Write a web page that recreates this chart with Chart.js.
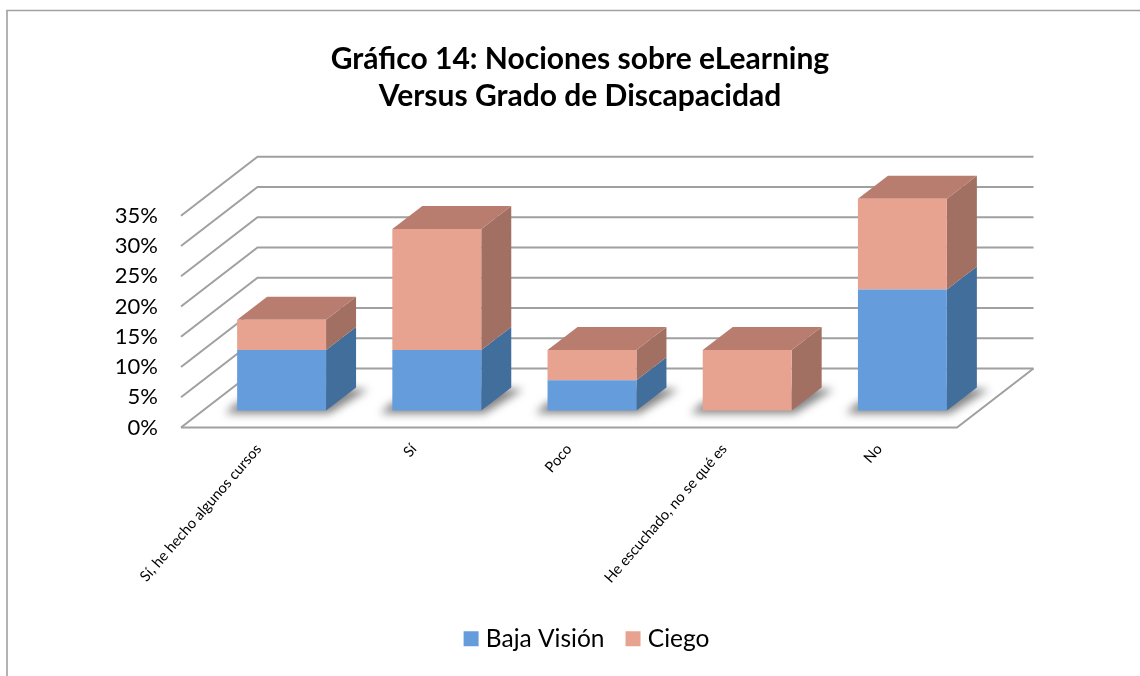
<!DOCTYPE html>
<html><head><meta charset="utf-8">
<style>html,body{margin:0;padding:0;background:#fff}#w{width:1140px;height:676px}canvas{display:block}</style>
<script src="https://cdn.jsdelivr.net/npm/chart.js@4"></script>
</head><body><div id="w"><canvas id="c" width="1140" height="676"></canvas></div>
<script>
const categories = ["Sí, he hecho algunos cursos","Sí","Poco","He escuchado, no se qué es","No"];
const bajaVision = [10,10,5,0,20];
const ciego = [5,20,5,10,15];
const seriesNames = ["Baja Visión","Ciego"];
const titleLines = ["Gráfico 14: Nociones sobre eLearning","Versus Grado de Discapacidad"];
const FONT = "Lato, Carlito, sans-serif";
const COL = {blue:"#659cdc",blueSide:"#416e9b",pink:"#e8a290",pinkSide:"#a26f63",pinkTop:"#b97d70",grid:"#a0a0a0"};
const WALL = {dx:76.5,dy:59};
const BAR = {dx:30,dy:23,sx:23,sy:-17};

function poly(ctx,pts,fill){ctx.beginPath();pts.forEach((p,i)=>i?ctx.lineTo(p[0],p[1]):ctx.moveTo(p[0],p[1]));ctx.closePath();ctx.fillStyle=fill;ctx.fill();}

const scene = {
  id:"scene",
  afterLayout(chart){ chart.legend.left += 9; chart.legend.right += 9; },
  beforeDraw(chart){
    const c=chart.ctx; c.save();
    c.fillStyle="#fff"; c.fillRect(0,0,chart.width,chart.height);
    c.strokeStyle="#a0a0a0"; c.lineWidth=1.6;
    c.beginPath(); c.moveTo(7,676); c.lineTo(7,10.5); c.lineTo(1140,10.5); c.stroke();
    c.restore();
  },
  beforeDatasetsDraw(chart){
    const c=chart.ctx,a=chart.chartArea,y=chart.scales.y;
    c.save(); c.strokeStyle=COL.grid; c.lineWidth=2;
    y.ticks.forEach(t=>{
      const p=y.getPixelForValue(t.value);
      c.beginPath(); c.moveTo(a.left,p); c.lineTo(a.left+WALL.dx,p-WALL.dy); c.lineTo(a.right+WALL.dx,p-WALL.dy); c.stroke();
    });
    const b=y.getPixelForValue(0);
    c.beginPath(); c.moveTo(a.left,b); c.lineTo(a.right,b); c.lineTo(a.right+WALL.dx,b-WALL.dy); c.stroke();
    c.restore();
    c.save(); c.translate(BAR.sx,BAR.sy);
    const m0=chart.getDatasetMeta(0).data,m1=chart.getDatasetMeta(1).data;
    m0.forEach(el=>{
      const {x,base,width:w}=el.getProps(["x","base","width"],true);
      c.save(); c.filter="blur(4px)";
      poly(c,[[x-w/2-12,base+3],[x+w/2+3,base+3],[x+w/2+BAR.dx+12,base-BAR.dy+2],[x+w/2,base-BAR.dy],[x-w/2,base-8]],"rgba(80,80,80,.7)");
      c.restore();
    });
    [[m0,COL.blueSide],[m1,COL.pinkSide]].forEach(([m,col])=>m.forEach(el=>{
      const {x,y:t,base,width:w}=el.getProps(["x","y","base","width"],true);
      if(Math.abs(base-t)<.5) return;
      const r=x+w/2;
      poly(c,[[r,base],[r+BAR.dx,base-BAR.dy],[r+BAR.dx,t-BAR.dy],[r,t]],col);
    }));
    m1.forEach(el=>{
      const {x,y:t,width:w}=el.getProps(["x","y","width"],true);
      const l=x-w/2,r=x+w/2;
      poly(c,[[l,t],[r,t],[r+BAR.dx,t-BAR.dy],[l+BAR.dx,t-BAR.dy]],COL.pinkTop);
    });
  },
  afterDatasetsDraw(chart){ chart.ctx.restore(); }
};

new Chart(document.getElementById("c"),{
  type:"bar",
  data:{labels:categories,datasets:[
    {label:seriesNames[0],data:bajaVision,backgroundColor:COL.blue,borderWidth:0,clip:false,barPercentage:.573,categoryPercentage:1},
    {label:seriesNames[1],data:ciego,backgroundColor:COL.pink,borderWidth:0,clip:false,barPercentage:.573,categoryPercentage:1}
  ]},
  plugins:[scene],
  options:{
    responsive:false,animation:false,
    layout:{padding:{left:20,right:0,top:41,bottom:15}},
    plugins:{
      title:{display:true,text:titleLines,color:"#000",font:{family:FONT,size:30,weight:"bold",lineHeight:1.23},padding:{top:0,bottom:101}},
      legend:{position:"bottom",labels:{color:"#000",font:{family:FONT,size:24.5},usePointStyle:true,pointStyle:"rect",boxWidth:5,boxHeight:15,padding:26}},
      tooltip:{enabled:false}
    },
    scales:{
      x:{stacked:true,grid:{display:false},border:{display:false},
        ticks:{color:"#000",font:{family:FONT,size:14.7},minRotation:49,maxRotation:49,padding:5,autoSkip:false},
        afterFit(s){s.height=173;}},
      y:{stacked:true,min:0,max:35,grid:{display:false},border:{display:false},
        ticks:{stepSize:5,autoSkip:false,color:"#000",font:{family:FONT,size:22},padding:15,callback:v=>v+"%"},
        afterFit(s){s.width=161;}},
      pad:{type:"linear",position:"right",display:true,grid:{display:false},border:{display:false},ticks:{display:false},afterFit(s){s.width=183;}}
    }
  }
});
</script></body></html>
